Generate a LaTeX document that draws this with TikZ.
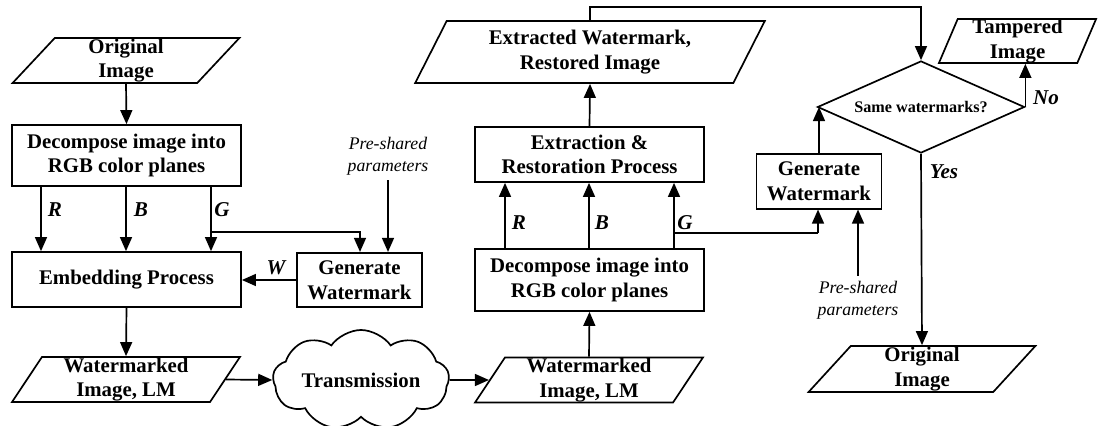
\documentclass[tikz,border=0pt]{standalone}
\usepackage{fontspec}
\setmainfont{Liberation Serif}
\usetikzlibrary{arrows.meta}
\usetikzlibrary{shapes.geometric,shapes.symbols}
\tikzset{
  fc_base/.style = {align=center, draw=black, very thick,
    font=\fontsize{14.8}{17.5}\selectfont\bfseries},
  fc_box/.style = {fc_base, rectangle, minimum width=5.725cm},% process box
  fc_gen/.style = {fc_base, rectangle, minimum width=3.125cm,
    minimum height=1.36cm},
  fc_io/.style = {fc_base, trapezium, trapezium left angle=63,
    trapezium right angle=117, trapezium stretches=true, inner sep=0pt,
    minimum width=5.7cm, minimum height=1.125cm},% data, parallelogram
  fc_dec/.style = {fc_base, diamond, aspect=2.25, inner sep=0pt,
    font=\fontsize{11.5}{13}\selectfont\bfseries,
    minimum width=5.175cm, minimum height=2.3cm},
  fc_cloud/.style = {fc_base, cloud, cloud puffs=9, cloud puff arc=110,
    cloud ignores aspect, minimum width=3.7cm, minimum height=2.5cm},
  fc_lbl/.style = {font=\fontsize{15}{17}\selectfont\bfseries\itshape},
  fc_note/.style = {align=center, inner sep=3pt,
    font=\fontsize{12.6}{15.6}\selectfont\itshape},
}

\begin{document}
\begin{tikzpicture}[x=0.025cm,y=-0.025cm,->,>={Triangle[length=10pt,width=8.5pt]},
  very thick]
  \useasboundingbox (0,0) rectangle (1107,426);
%   embedding side
  \node[fc_io] (orig1) at (126,60.5) {Original\\Image};
  \node[fc_box, minimum height=1.525cm] (dec1) at (126.5,155.5) {Decompose image into\\RGB color planes};
  \node[fc_box, minimum height=1.375cm] (emb) at (126.5,279.5) {Embedding Process};
  \node[fc_gen] (gen1) at (359.5,280) {Generate\\Watermark};
  \node[fc_note] (pre1) at (388,156) {Pre-shared\\parameters};
  \node[fc_io] (wm1) at (126,379.5) {Watermarked\\Image, LM};
  \node[fc_cloud] (trans) at (361,380) {Transmission};

  \coordinate (c_r1) at (41,0);
  \coordinate (c_b1) at (126,0);
  \coordinate (c_g1) at (211,0);
  \coordinate (j_g1) at (211,232);
  \coordinate (c_in1) at (360,0);

  \node[fc_lbl] (l_r1) at (55,210) {R};
  \node[fc_lbl] (l_b1) at (141,210) {B};
  \node[fc_lbl] (l_g1) at (222,210) {G};
  \node[fc_lbl] (l_w) at (276,268) {W};

  \draw (orig1.south) -- (dec1.north);
  \draw (dec1.south -| c_r1) -- (emb.north -| c_r1);
  \draw (dec1.south -| c_b1) -- (emb.north -| c_b1);
  \draw (dec1.south -| c_g1) -- (emb.north -| c_g1);
  \draw (j_g1) -| (gen1.north -| c_in1);
  \draw (pre1.south) -- (pre1.south |- gen1.north);
  \draw (gen1.west) -- (gen1.west -| emb.east);
  \draw (emb.south) -- (wm1.north);
  \draw (wm1.east) -- (trans.west);

%   extraction side
  \node[fc_io] (wm2) at (589,380) {Watermarked\\Image, LM};
  \node[fc_box, minimum height=1.55cm] (dec2) at (589.5,280) {Decompose image into\\RGB color planes};
  \node[fc_box, minimum height=1.375cm] (ext) at (589.5,154.5) {Extraction \&\\Restoration Process};
  \node[fc_io, minimum width=8.75cm, minimum height=1.55cm] (out) at (590,52) {Extracted Watermark,\\Restored Image};

  \coordinate (c_r2) at (505,0);
  \coordinate (c_b2) at (589,0);
  \coordinate (c_g2) at (674,0);
  \coordinate (j_g2) at (674,233);
  \coordinate (c_in2) at (818,0);

  \node[fc_lbl] (l_r2) at (519,223) {R};
  \node[fc_lbl] (l_b2) at (602,223) {B};
  \node[fc_lbl] (l_g2) at (685,223) {G};

  \draw (trans.east) -- (wm2.west);
  \draw (wm2.north) -- (dec2.south);
  \draw (dec2.north -| c_r2) -- (ext.south -| c_r2);
  \draw (dec2.north -| c_b2) -- (ext.south -| c_b2);
  \draw (dec2.north -| c_g2) -- (ext.south -| c_g2);
  \draw (ext.north) -- (out.south);

%   verification
  \node[fc_gen] (gen2) at (819,181.5) {Generate\\Watermark};
  \node[fc_note] (pre2) at (858,300) {Pre-shared\\parameters};
  \node[fc_dec] (same) at (921,107) {Same watermarks?};
  \node[fc_io, trapezium left angle=72, trapezium right angle=108,
    minimum width=3.95cm, minimum height=1.1cm] (tamp) at (1017.5,41) {Tampered\\Image};
  \node[fc_io, minimum height=1.15cm] (orig2) at (922,369) {Original\\Image};

  \coordinate (c_top) at (921,7);
  \node[fc_lbl] (l_no) at (1046,98) {No};
  \node[fc_lbl] (l_yes) at (944,172) {Yes};

  \draw[-] (j_g2) -- (j_g2 -| c_in2);
  \draw (j_g2 -| c_in2) -- (gen2.south -| c_in2);
  \draw (pre2.north) -- (pre2.north |- gen2.south);
  \draw (gen2.north) -- (gen2.north |- same.west);
  \draw (out.north) |- (c_top) -- (same.north);
  \draw (same.east) -- (same.east |- tamp.south);
  \draw (same.south) -- (orig2.north);
\end{tikzpicture}
\end{document}
